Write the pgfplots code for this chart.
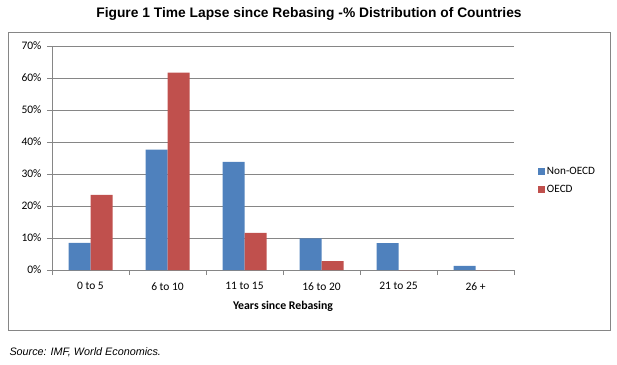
\documentclass[border=0pt]{standalone}
\usepackage{pgfplots}
\pgfplotsset{compat=1.18}
\usepackage{fontspec}
\setmainfont{Carlito}
\newfontfamily\arial{Liberation Sans}
\definecolor{nonoecd}{HTML}{4F81BD}
\definecolor{oecd}{HTML}{C0504D}
\definecolor{gridc}{HTML}{868686}
\begin{document}
\begin{tikzpicture}[x=1pt,y=1pt]
\useasboundingbox (0,0) rectangle (617,364);
\draw[gridc, line width=0.8pt] (8,34) rectangle (610,331.5);
\node[font=\arial\bfseries\fontsize{13.8}{15}\selectfont] at (309,350) {Figure 1 Time Lapse since Rebasing -\% Distribution of Countries};
\node[anchor=west, font=\arial\itshape\fontsize{10.8}{12}\selectfont] at (6,12) {Source: IMF, World Economics.};
\begin{axis}[
  at={(52pt,94pt)}, anchor=south west,
  scale only axis, width=462pt, height=224pt,
  xmin=-0.5, xmax=5.5, ymin=0, ymax=70,
  ybar=0pt, bar width=22pt,
  axis x line*=bottom, axis y line*=left,
  axis line style={gridc, line width=0.8pt},
  xtick={-0.5,0.5,1.5,2.5,3.5,4.5,5.5},
  xticklabels={},
  extra x ticks={0,1,2,3,4,5},
  extra x tick labels={0 to 5,6 to 10,11 to 15,16 to 20,21 to 25,26 +},
  extra x tick style={major tick length=0pt, grid=none},
  ytick={0,10,20,30,40,50,60,70},
  yticklabels={0\%,10\%,20\%,30\%,40\%,50\%,60\%,70\%},
  tick align=outside, major tick length=5pt,
  tick style={gridc, line width=0.8pt},
  ymajorgrids, grid style={gridc, line width=0.8pt},
  every tick label/.append style={font=\fontsize{11.5}{13}\selectfont, text=black},
  xticklabel style={yshift=-9pt},
  yticklabel style={xshift=-2pt},
  xlabel={\textbf{Years since Rebasing}},
  xlabel style={font=\fontsize{11.8}{13}\selectfont, at={(rel axis cs:0.5,0)}, anchor=center, yshift=-36pt},
  legend style={at={(rel axis cs:1.045,0.40)}, anchor=west, draw=none, fill=none,
    font=\fontsize{11.2}{13}\selectfont, row sep=5pt,
    legend cell align=left},
  legend image code/.code={\fill[#1] (0pt,-3.5pt) rectangle (7pt,3.5pt);},
]
\addplot[fill=nonoecd, draw=none] coordinates {(0,8.5) (1,37.6) (2,33.8) (3,9.9) (4,8.4) (5,1.3)};
\addplot[fill=oecd, draw=none] coordinates {(0,23.5) (1,61.7) (2,11.6) (3,2.8) (4,0) (5,0)};
\legend{Non-OECD,OECD}
\end{axis}
\end{tikzpicture}
\end{document}
